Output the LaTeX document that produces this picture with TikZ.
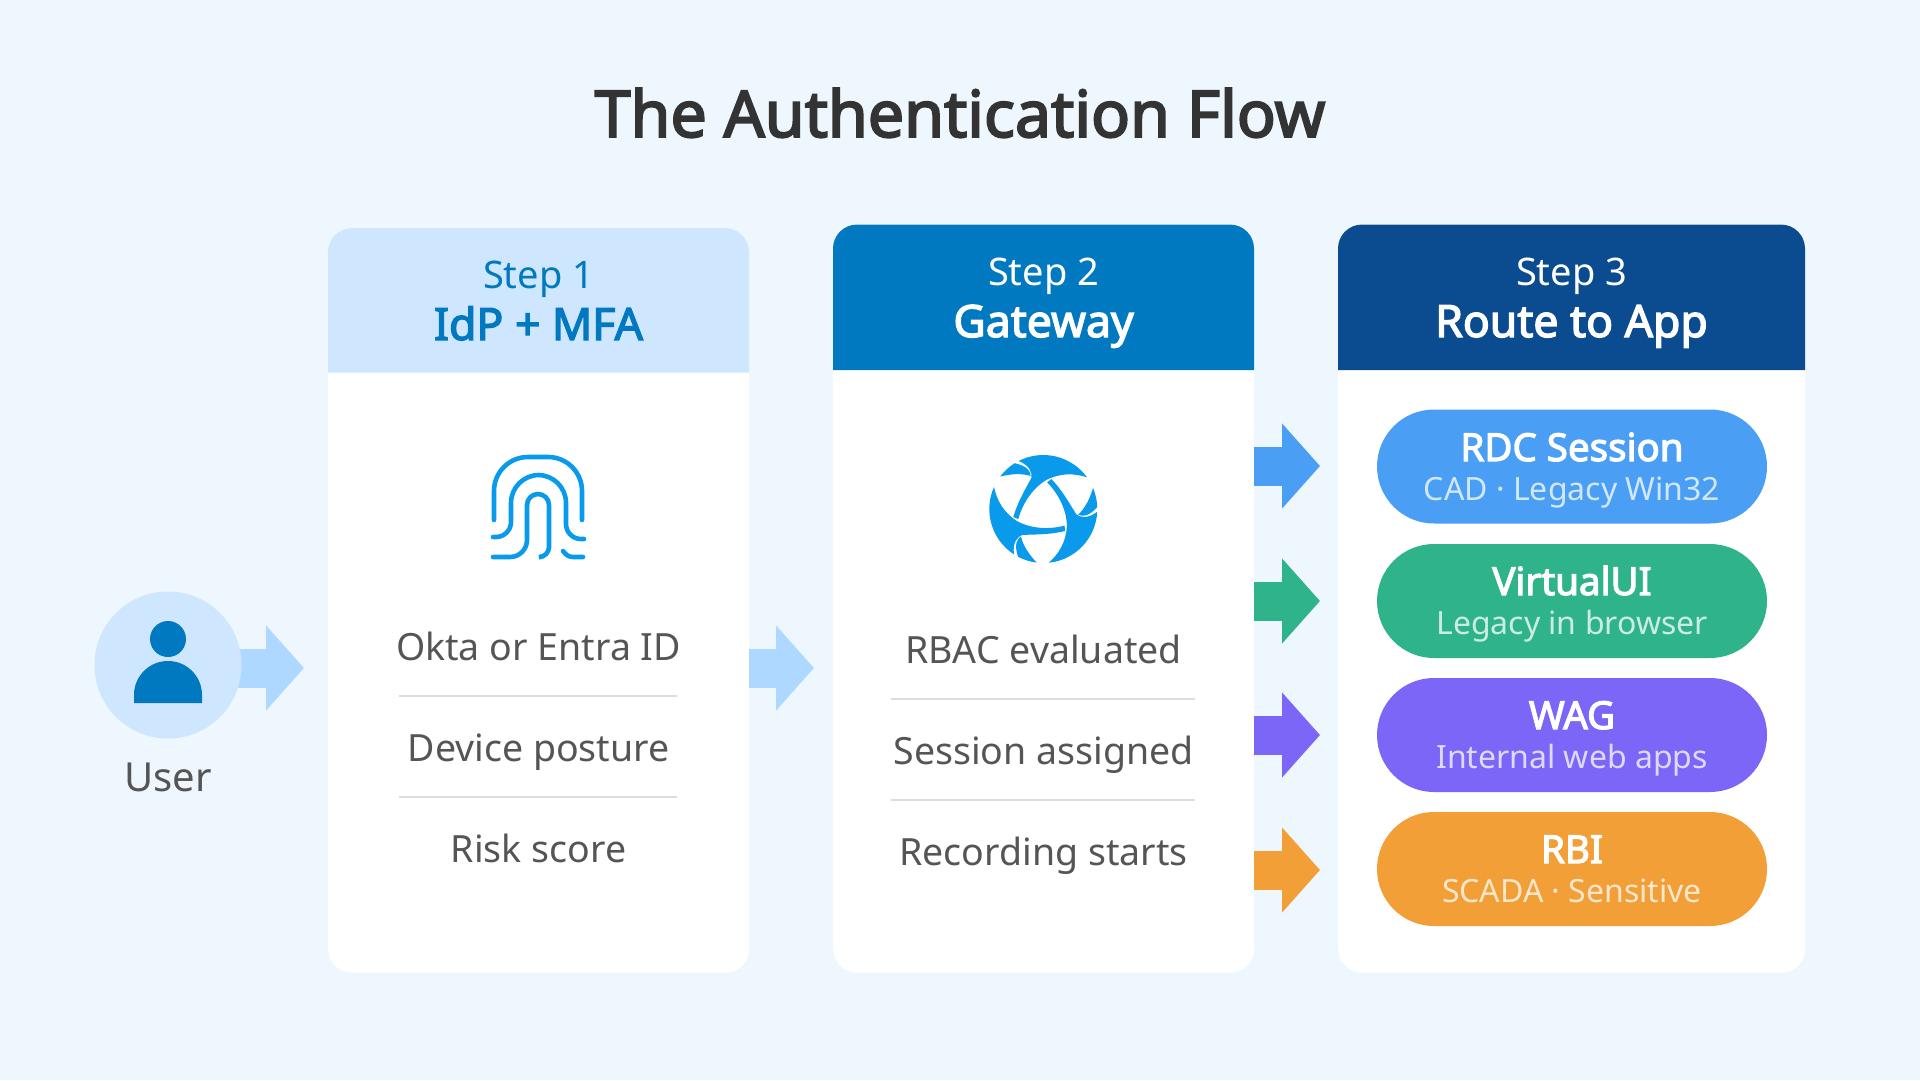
\documentclass[tikz,border=0pt]{standalone}
\usepackage{fontspec}
\setmainfont{Noto Sans}
\newfontfamily\semifont[FakeBold=3]{Noto Sans}
\usetikzlibrary{positioning}
\usetikzlibrary{arrows.meta}
\usetikzlibrary{backgrounds}
\definecolor{pagebg}{HTML}{EEF6FE}
\definecolor{softblue}{HTML}{CFE6FF}
\definecolor{softarrow}{HTML}{AED8FF}
\definecolor{midblue}{HTML}{0079C1}
\definecolor{darkblue}{HTML}{0A4C8F}
\definecolor{iconblue}{HTML}{0A9AEC}
\definecolor{rdccol}{HTML}{4A9EF3}
\definecolor{vuicol}{HTML}{2FB38A}
\definecolor{wagcol}{HTML}{7C66F8}
\definecolor{rbicol}{HTML}{F29F38}
\definecolor{titlecol}{HTML}{333333}
\definecolor{rowcol}{HTML}{555555}
\definecolor{rulecol}{HTML}{DDDDDD}
\tikzset{
  card/.style={fill=white, rounded corners=24pt, minimum height=745pt, inner sep=0pt, anchor=south west},
  head/.style={rounded corners=24pt},
  steptxt/.style={anchor=base, inner sep=0pt, font=\fontsize{38}{38}\selectfont},
  nametxt/.style={anchor=base, inner sep=0pt, font=\fontsize{44.5}{44}\semifont},
  rowtxt/.style={anchor=base, inner sep=0pt, text=rowcol, font=\fontsize{37.5}{37}\selectfont},
  rowline/.style={draw=rulecol, line width=1.2pt},
  flow/.style={line width=39pt, -{Triangle[length=38pt,width=83pt]}},
  pill/.style={rounded corners=57pt, minimum width=390pt, minimum height=114pt, inner sep=0pt},
  pilltxt/.style={anchor=base, inner sep=0pt, text=white, font=\fontsize{38.5}{38}\semifont},
  pillsub/.style={anchor=base, inner sep=0pt, font=\fontsize{32}{32}\selectfont},
  finger/.style={draw=iconblue, line width=4.6pt, line cap=round, fill=none}
}
\begin{document}
\begin{tikzpicture}[x=1pt, y=-1pt]
\useasboundingbox (0,0) rectangle (1920,1080);

\node[anchor=base, inner sep=0pt, text=titlecol, font=\fontsize{64.5}{64}\semifont] (title) at (960,137) {The Authentication Flow};

% user
\node[circle, fill=softblue, minimum size=147pt, inner sep=0pt] (user) at (168,665) {};
\fill[midblue] (168,639) circle (18pt);
\fill[midblue] (134,703) [rounded corners=33.9pt] -- (134,661) -- (202,661) [sharp corners] -- (202,703) -- cycle;
\node[anchor=base, inner sep=0pt, text=rowcol, font=\fontsize{40}{40}\selectfont] (userl) at (168,791) {User};

% cards
\node[card, minimum width=421pt, minimum height=745pt] (card1) at (328,973) {};
\node[card, minimum width=421pt, minimum height=749pt] (card2) at (833,973) {};
\node[card, minimum width=467pt, minimum height=749pt] (card3) at (1338,973) {};

\fill[softblue, head] (328,372.5) -- (328,228) -- (749,228) [sharp corners] -- (749,372.5) -- cycle;
\fill[midblue, head] (833,370) -- (833,224.5) -- (1254,224.5) [sharp corners] -- (1254,370) -- cycle;
\fill[darkblue, head] (1338,370) -- (1338,224.5) -- (1805,224.5) [sharp corners] -- (1805,370) -- cycle;

\node[steptxt, text=midblue] (s1) at (538.5,288) {Step 1};
\node[nametxt, text=midblue] (n1) at (538.5,340) {IdP + MFA};
\node[steptxt, text=white] (s2) at (1043.5,285) {Step 2};
\node[nametxt, text=white] (n2) at (1043.5,337) {Gateway};
\node[steptxt, text=white] (s3) at (1571.5,285) {Step 3};
\node[nametxt, text=white] (n3) at (1571.5,337) {Route to App};

% fingerprint
\draw[finger, rounded corners=34pt] (494,520) -- (494,457) -- (582,457) -- (582,520);
\draw[finger] (493,537) [rounded corners=15pt] -- (511,537) [rounded corners=28pt] -- (511,475) -- (566,475) [rounded corners=15pt] -- (566,539) [sharp corners] -- (584,539);
\draw[finger] (493,557) [rounded corners=17pt] -- (527,557) [rounded corners=11pt] -- (527,494) -- (549,494) [rounded corners=10pt] -- (549,557) [sharp corners] -- (541,557);
\draw[finger] (563,551) .. controls (566,555) and (569,557) .. (573,557) -- (583,557);

% globe
\begin{scope}[x=1pt, y=1pt, shift={(1043.3pt,-509pt)}]
\foreach \turn in {0,120,240} {
  \fill[iconblue, rotate=\turn] (36:54pt) arc[start angle=36, end angle=117, radius=54pt]
    .. controls (-13,43) and (-11,36) .. (-12,31)
    .. controls (-19,18) and (-26,6) .. (-30,-8)
    -- (-25,-10)
    .. controls (-20,8) and (-9,22) .. (3,29)
    .. controls (17,36) and (30,36) .. (36:54pt) -- cycle;
  \fill[iconblue, rotate=\turn] (143:54pt) arc[start angle=143, end angle=122, radius=54pt]
    .. controls (-16,43) and (-13,38) .. (-12.5,33)
    .. controls (-22,36) and (-33,35) .. (143:54pt) -- cycle;
}
\end{scope}

% rows
\node[rowtxt] (r11) at (538.5,660) {Okta or Entra ID};
\draw[rowline] (399,696) -- (677,696);
\node[rowtxt] (r12) at (538.5,761) {Device posture};
\draw[rowline] (399,797) -- (677,797);
\node[rowtxt] (r13) at (538.5,862) {Risk score};
\node[rowtxt] (r21) at (1043.5,663) {RBAC evaluated};
\draw[rowline] (891,699) -- (1195,699);
\node[rowtxt] (r22) at (1043.5,764) {Session assigned};
\draw[rowline] (891,800) -- (1195,800);
\node[rowtxt] (r23) at (1043.5,865) {Recording starts};

% pills
\node[pill, fill=rdccol] (rdc) at (1572,466.5) {};
\node[pill, fill=vuicol] (vui) at (1572,601) {};
\node[pill, fill=wagcol] (wag) at (1572,735) {};
\node[pill, fill=rbicol] (rbi) at (1572,869) {};

\node[pilltxt] (rdcn) at (1572,461) {RDC Session};
\node[pillsub, text=white!75!rdccol] (rdcs) at (1572,500) {CAD · Legacy Win32};
\node[pilltxt] (vuin) at (1572,595) {VirtualUI};
\node[pillsub, text=white!75!vuicol] (vuis) at (1572,634) {Legacy in browser};
\node[pilltxt] (wagn) at (1572,729) {WAG};
\node[pillsub, text=white!75!wagcol] (wags) at (1572,768) {Internal web apps};
\node[pilltxt] (rbin) at (1572,863) {RBI};
\node[pillsub, text=white!75!rbicol] (rbis) at (1572,902) {SCADA · Sensitive};

% arrows
\coordinate (a0) at (304,668);
\coordinate (a1) at (814,668);
\coordinate (a2) at (1320,466);
\coordinate (a3) at (1320,601);
\coordinate (a4) at (1320,735);
\coordinate (a5) at (1320,870);

\begin{scope}[on background layer]
\fill[pagebg] (0,0) rectangle (1920,1080);
\draw[flow, softarrow, shorten <=-8pt] (user.east |- a0) -- (a0);
\end{scope}
\draw[flow, softarrow] (card1.east |- a1) -- (a1);
\draw[flow, rdccol] (card2.east |- a2) -- (a2);
\draw[flow, vuicol] (card2.east |- a3) -- (a3);
\draw[flow, wagcol] (card2.east |- a4) -- (a4);
\draw[flow, rbicol] (card2.east |- a5) -- (a5);
\end{tikzpicture}
\end{document}
